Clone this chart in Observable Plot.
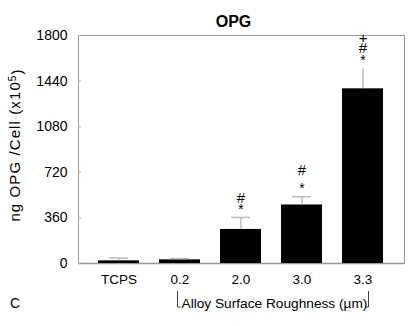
<!DOCTYPE html>
<html><head><meta charset="utf-8">
<script src="https://cdn.jsdelivr.net/npm/d3@7"></script>
<script src="https://cdn.jsdelivr.net/npm/@observablehq/plot@0.6"></script>
<style>body{margin:0;background:#fff;font-family:Arial,"Liberation Sans",sans-serif}</style>
</head><body><div id="chart"></div>
<script>
const categories = ["TCPS", "0.2", "2.0", "3.0", "3.3"];
const values = [21, 29, 269, 462, 1379];
const errors = [22, 10, 95, 65, 158];
const showCap = [true, true, true, true, false];
const yTicks = [0, 360, 720, 1080, 1440, 1800];
const annotCats = ["2.0", "2.0", "3.0", "3.0", "3.3", "3.3", "3.3"];
const annotSyms = ["*", "#", "*", "#", "*", "#", "+"];
const annotValues = [448, 519, 614, 733, 1624, 1697, 1776];
const titleText = "OPG";
const yLabelMain = "ng OPG /Cell (x10";
const yLabelSup = "5";
const xLabelText = "Alloy Surface Roughness (µm)";
const panelLetter = "C";
const bracketFrom = "0.2", bracketTo = "3.3";

const rows = categories.map((c, i) => ({cat: c, value: values[i], err: errors[i], cap: showCap[i]}));
const annots = annotCats.map((c, i) => ({cat: c, sym: annotSyms[i], v: annotValues[i]}));
const FONT = "Arial, 'Liberation Sans', sans-serif";

const plot = Plot.plot({
  width: 410, height: 326,
  marginTop: 35, marginBottom: 63, marginLeft: 78, marginRight: 6,
  style: {fontFamily: FONT, fontSize: "14px", color: "#000", background: "#fff"},
  x: {domain: categories, paddingInner: 0.32, paddingOuter: 0.29, label: null},
  y: {domain: [0, 1800], label: null},
  marks: [
    Plot.ruleY([0], {stroke: "#c8c8c8", strokeWidth: 2}),
    Plot.barY(rows, {x: "cat", y: "value", fill: "#000"}),
    Plot.ruleX(rows, {x: "cat", y1: "value", y2: d => d.value + d.err, stroke: "#bdbdbd", strokeWidth: 1.5}),
    Plot.tickY(rows.filter(d => d.cap), {x: "cat", y: d => d.value + d.err, stroke: "#bdbdbd", strokeWidth: 1.5, insetLeft: 11, insetRight: 11}),
    Plot.frame({stroke: "#999"}),
    Plot.axisY(yTicks, {tickSize: -3, tickPadding: 14, stroke: "#aaa", fill: "#000", fontSize: 14, label: null, tickFormat: d => String(d)}),
    Plot.axisX({tickSize: 0, tickPadding: 11, fontSize: 13.5, fill: "#000", label: null}),
    Plot.text(annots.filter(a => a.sym === "*"), {x: "cat", y: "v", text: "sym", dy: 3, fontSize: 14, fill: "#000"}),
    Plot.text(annots.filter(a => a.sym !== "*"), {x: "cat", y: "v", text: "sym", fontSize: 15, fill: "#000"}),
    Plot.text([titleText], {frameAnchor: "top", dy: -20, dx: -8, fontWeight: "bold", fontSize: 16, fill: "#000"})
  ]
});
document.getElementById("chart").append(plot);

const svg = d3.select(plot);
const xs = plot.scale("x");
const bw = xs.bandwidth;
const cx = c => xs.apply(c) + bw / 2;

// y label
const yl = svg.append("text")
  .attr("transform", "translate(20,145) rotate(-90)")
  .attr("text-anchor", "middle")
  .style("font-family", FONT).style("font-size", "15px").style("letter-spacing", "1.1px")
  .attr("fill", "#000");
yl.append("tspan").text(yLabelMain);
yl.append("tspan").attr("dy", "-0.45em").style("font-size", "10px").text(yLabelSup);
yl.append("tspan").attr("dy", "0.45em").text(")");

// panel letter
svg.append("text").attr("x", 15).attr("y", 308).attr("text-anchor", "middle")
  .style("font-family", FONT).style("font-size", "14px").attr("fill", "#000").text(panelLetter);

// bracket
const x0 = cx(bracketFrom) - 2, x1 = cx(bracketTo) + 6;
svg.append("path")
  .attr("d", `M${x0},291V307H${x0 + 3}M${x1},291V307H${x1 - 3}`)
  .attr("fill", "none").attr("stroke", "#444").attr("stroke-width", 1);
svg.append("text").attr("x", x0 + 4).attr("y", 308).attr("text-anchor", "start")
  .style("font-family", FONT).style("font-size", "13.7px").attr("fill", "#000").text(xLabelText);
</script>
</body></html>
